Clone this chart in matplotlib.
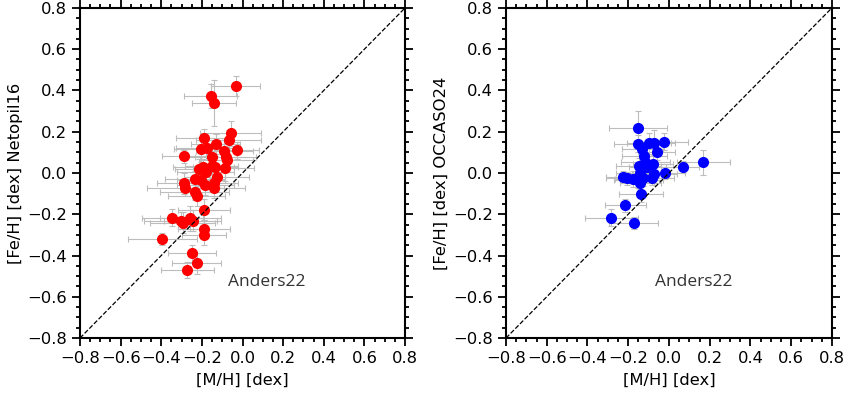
import numpy as np
import matplotlib.pyplot as plt
from matplotlib.ticker import MultipleLocator

# Netopil16 vs Anders22
mh_net = [-0.033, -0.156, -0.140, -0.057, -0.068, -0.188, -0.132, -0.029, -0.206, -0.176,
          -0.090, -0.288, -0.149, -0.083, -0.078, -0.086, -0.214, -0.193, -0.152, -0.134,
          -0.181, -0.127, -0.234, -0.204, -0.290, -0.282, -0.183, -0.142, -0.139, -0.235,
          -0.226, -0.190, -0.347, -0.304, -0.294, -0.258, -0.245, -0.190, -0.190, -0.396,
          -0.249, -0.226, -0.272]
feh_net = [0.422, 0.373, 0.340, 0.192, 0.160, 0.171, 0.140, 0.110, 0.115, 0.120,
           0.108, 0.080, 0.078, 0.078, 0.063, 0.022, 0.019, 0.030, 0.034, 0.030,
           0.003, -0.018, -0.029, -0.034, -0.050, -0.074, -0.058, -0.050, -0.071, -0.090,
           -0.112, -0.178, -0.217, -0.231, -0.241, -0.220, -0.231, -0.270, -0.300, -0.320,
           -0.390, -0.438, -0.470]
mh_net_err = [0.12, 0.13, 0.11, 0.15, 0.16, 0.14, 0.12, 0.11, 0.13, 0.15,
              0.14, 0.11, 0.12, 0.15, 0.13, 0.14, 0.12, 0.15, 0.13, 0.11,
              0.14, 0.16, 0.15, 0.12, 0.13, 0.19, 0.14, 0.12, 0.15, 0.17,
              0.14, 0.13, 0.15, 0.18, 0.16, 0.15, 0.14, 0.13, 0.11, 0.17,
              0.12, 0.12, 0.13]
feh_net_err = [0.05, 0.06, 0.11, 0.06, 0.05, 0.04, 0.05, 0.04, 0.06, 0.04,
               0.05, 0.03, 0.06, 0.05, 0.04, 0.06, 0.05, 0.04, 0.06, 0.05,
               0.04, 0.05, 0.04, 0.03, 0.05, 0.04, 0.05, 0.04, 0.05, 0.04,
               0.05, 0.05, 0.04, 0.04, 0.05, 0.06, 0.05, 0.04, 0.05, 0.03,
               0.04, 0.05, 0.04]

# OCCASO24 vs Anders22
mh_occ = [-0.152, -0.152, -0.098, -0.072, -0.026, -0.130, -0.060, -0.121, -0.116, -0.079,
          -0.149, -0.106, 0.067, 0.168, -0.020, -0.142, -0.072, -0.227, -0.208, -0.175,
          -0.129, -0.083, -0.151, -0.141, -0.137, -0.214, -0.283, -0.173]
feh_occ = [0.218, 0.142, 0.144, 0.147, 0.152, 0.116, 0.103, 0.084, 0.052, 0.044,
           0.034, 0.030, 0.030, 0.052, -0.001, -0.001, -0.006, -0.019, -0.026, -0.029,
           -0.023, -0.026, -0.035, -0.047, -0.103, -0.157, -0.217, -0.241]
mh_occ_err = [0.14, 0.12, 0.11, 0.10, 0.12, 0.10, 0.09, 0.11, 0.12, 0.10,
              0.11, 0.09, 0.08, 0.13, 0.10, 0.12, 0.11, 0.08, 0.10, 0.09,
              0.10, 0.11, 0.12, 0.10, 0.11, 0.10, 0.13, 0.12]
feh_occ_err = [0.08, 0.04, 0.05, 0.06, 0.04, 0.03, 0.04, 0.03, 0.05, 0.04,
               0.04, 0.03, 0.03, 0.06, 0.03, 0.04, 0.05, 0.03, 0.03, 0.04,
               0.04, 0.03, 0.04, 0.03, 0.04, 0.03, 0.04, 0.03]

plt.rcParams['font.family'] = 'DejaVu Sans'
fig = plt.figure(figsize=(8.51, 3.94), dpi=100)
ax1 = fig.add_axes([0.094, 0.142, 0.382, 0.838])
ax2 = fig.add_axes([0.5946, 0.142, 0.383, 0.838])

panels = [(ax1, mh_net, feh_net, mh_net_err, feh_net_err, 'red', '[Fe/H] [dex] Netopil16'),
          (ax2, mh_occ, feh_occ, mh_occ_err, feh_occ_err, 'blue', '[Fe/H] [dex] OCCASO24')]

for ax, x, y, xe, ye, col, ylab in panels:
    ax.errorbar(x, y, xerr=xe, yerr=ye, fmt='none', ecolor='#bdbdbd',
                elinewidth=0.8, capsize=2, capthick=0.8, zorder=1)
    ax.plot(x, y, 'o', color=col, markersize=7, zorder=2)
    ax.plot([-0.8, 0.8], [-0.8, 0.8], 'k--', lw=0.9, zorder=3)
    ax.set_xlim(-0.8, 0.8)
    ax.set_ylim(-0.8, 0.8)
    ax.xaxis.set_major_locator(MultipleLocator(0.2))
    ax.yaxis.set_major_locator(MultipleLocator(0.2))
    ax.xaxis.set_minor_locator(MultipleLocator(0.05))
    ax.yaxis.set_minor_locator(MultipleLocator(0.05))
    ax.tick_params(which='both', direction='out', top=True, right=True,
                   labeltop=False, labelright=False, width=1.3, labelsize=11.8)
    ax.tick_params(which='major', length=6)
    ax.tick_params(which='minor', length=3)
    for sp in ax.spines.values():
        sp.set_linewidth(1.5)
    ax.set_xlabel('[M/H] [dex]', fontsize=11.8, labelpad=5)
    ax.set_ylabel(ylab, fontsize=11.8, labelpad=3)
    ax.text(0.12, -0.53, 'Anders22', ha='center', va='center', fontsize=12.5,
            family='Open Sans', color='#333333')

fig.savefig('out.png', dpi=100)
